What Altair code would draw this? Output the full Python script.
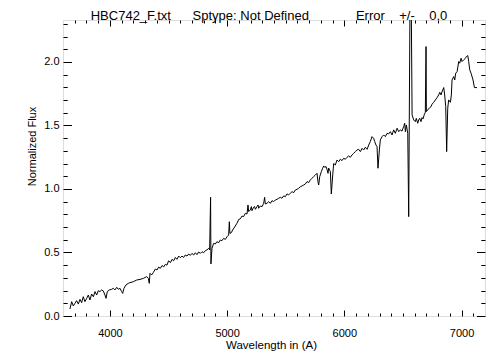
import altair as alt
import pandas as pd

# ---- spectrum ----
wavelength = [
    3659, 3674, 3688, 3702, 3716, 3731, 3745, 3759, 3773, 3787, 3802, 3816, 3830, 3844, 3859,
    3873, 3887, 3901, 3915, 3930, 3944, 3958, 3967, 3978, 3995, 4015, 4029, 4043, 4058, 4072,
    4086, 4100, 4109, 4120, 4137, 4157, 4171, 4200, 4228, 4257, 4285, 4314, 4328, 4336, 4342,
    4356, 4370, 4388, 4402, 4416, 4430, 4445, 4459, 4473, 4487, 4501, 4516, 4530, 4544, 4558,
    4572, 4587, 4601, 4615, 4629, 4643, 4658, 4672, 4686, 4700, 4715, 4729, 4743, 4757, 4772,
    4786, 4800, 4814, 4828, 4843, 4851, 4859, 4862, 4871, 4885, 4899, 4913, 4928, 4942, 4956,
    4970, 4985, 4999, 5013, 5019, 5024, 5036, 5047, 5064, 5084, 5099, 5113, 5127, 5141, 5155,
    5170, 5178, 5184, 5198, 5207, 5212, 5226, 5235, 5241, 5255, 5264, 5269, 5283, 5298, 5312,
    5320, 5326, 5340, 5355, 5369, 5383, 5397, 5411, 5426, 5440, 5454, 5468, 5483, 5497, 5511,
    5525, 5539, 5554, 5568, 5582, 5596, 5610, 5625, 5639, 5653, 5667, 5682, 5696, 5710, 5724,
    5738, 5753, 5767, 5775, 5781, 5790, 5804, 5815, 5824, 5832, 5844, 5852, 5861, 5866, 5881,
    5889, 5901, 5909, 5923, 5938, 5952, 5966, 5980, 5994, 6009, 6023, 6037, 6051, 6066, 6080,
    6094, 6108, 6122, 6137, 6151, 6165, 6179, 6194, 6208, 6222, 6236, 6250, 6259, 6270, 6279,
    6287, 6299, 6307, 6322, 6336, 6350, 6364, 6378, 6393, 6407, 6421, 6435, 6450, 6464, 6478,
    6492, 6506, 6515, 6521, 6529, 6541, 6549, 6565, 6578, 6592, 6606, 6614, 6626, 6634, 6643,
    6654, 6663, 6671, 6683, 6691, 6697, 6700, 6711, 6728, 6740, 6748, 6762, 6777, 6791, 6805,
    6814, 6825, 6836, 6848, 6856, 6865, 6873, 6882, 6890, 6905, 6913, 6919, 6933, 6942, 6950,
    6962, 6976, 6984, 6996, 7004, 7018, 7033, 7041, 7053, 7061, 7070, 7081, 7098, 7110, 7132,
]
flux = [
    0.055, 0.113, 0.079, 0.100, 0.121, 0.094, 0.131, 0.105, 0.152, 0.113, 0.139, 0.165, 0.126, 0.173, 0.152,
    0.192, 0.165, 0.199, 0.192, 0.205, 0.197, 0.165, 0.139, 0.192, 0.205, 0.210, 0.218, 0.205, 0.226, 0.210,
    0.218, 0.192, 0.178, 0.218, 0.244, 0.257, 0.262, 0.270, 0.283, 0.288, 0.296, 0.310, 0.296, 0.257, 0.336,
    0.323, 0.341, 0.370, 0.362, 0.385, 0.375, 0.398, 0.386, 0.407, 0.400, 0.435, 0.420, 0.446, 0.435, 0.461,
    0.446, 0.472, 0.459, 0.472, 0.461, 0.480, 0.472, 0.488, 0.477, 0.493, 0.480, 0.498, 0.483, 0.504, 0.493,
    0.506, 0.498, 0.514, 0.520, 0.533, 0.520, 0.935, 0.410, 0.533, 0.572, 0.567, 0.585, 0.577, 0.598, 0.593,
    0.611, 0.603, 0.624, 0.637, 0.742, 0.650, 0.656, 0.677, 0.700, 0.730, 0.760, 0.765, 0.787, 0.782, 0.808,
    0.803, 0.874, 0.822, 0.835, 0.861, 0.829, 0.856, 0.861, 0.840, 0.861, 0.874, 0.848, 0.866, 0.861, 0.887,
    0.934, 0.882, 0.887, 0.900, 0.887, 0.908, 0.900, 0.913, 0.919, 0.927, 0.934, 0.927, 0.945, 0.940, 0.961,
    0.953, 0.966, 0.979, 0.971, 0.992, 0.997, 1.005, 1.018, 1.024, 1.031, 1.039, 1.058, 1.050, 1.071, 1.084,
    1.097, 1.110, 1.123, 1.058, 1.031, 1.097, 1.136, 1.163, 1.181, 1.171, 1.176, 1.155, 1.123, 1.165, 1.136,
    0.960, 1.110, 1.200, 1.189, 1.228, 1.215, 1.234, 1.223, 1.241, 1.234, 1.249, 1.260, 1.249, 1.268, 1.281,
    1.294, 1.307, 1.312, 1.294, 1.320, 1.307, 1.328, 1.312, 1.346, 1.373, 1.412, 1.399, 1.373, 1.346, 1.333,
    1.163, 1.307, 1.386, 1.412, 1.425, 1.412, 1.438, 1.433, 1.451, 1.425, 1.465, 1.438, 1.478, 1.451, 1.465,
    1.455, 1.491, 1.517, 1.451, 1.504, 1.438, 0.782, 3.200, 1.583, 1.543, 1.530, 1.556, 1.517, 1.543, 1.556,
    1.530, 1.562, 1.551, 1.588, 1.604, 2.121, 1.609, 1.622, 1.640, 1.648, 1.667, 1.682, 1.701, 1.719, 1.740,
    1.761, 1.740, 1.772, 1.798, 1.740, 1.648, 1.294, 1.635, 1.701, 1.682, 1.740, 1.858, 1.885, 1.858, 1.911,
    1.924, 2.003, 1.990, 2.029, 2.003, 2.016, 2.029, 2.042, 2.050, 2.003, 1.937, 1.911, 1.858, 1.798, 1.798,
]

# ---- axes / text ----
x_domain = [3600, 7200]
y_domain = [0.0, 2.33]
x_major = [4000, 5000, 6000, 7000]
x_minor = [v for v in range(3700, 7200, 100) if v % 1000 != 0]
y_major = [0.0, 0.5, 1.0, 1.5, 2.0]
y_minor = [round(v * 0.1, 1) for v in range(1, 24) if v % 5 != 0]
x_title = "Wavelength in (A)"
y_title = "Normalized Flux"
NB = "\u00a0"
title_text = ("HBC742_F.txt" + NB * 6 + "Sptype: Not Defined" + NB * 13 + "Error"
              + NB * 4 + "+/-" + NB * 4 + "0.0")

W, H = 422, 296
FONT = "Liberation Sans"

df = pd.DataFrame({"wl": wavelength, "flux": flux})
xs = alt.Scale(domain=x_domain, nice=False, zero=False)
ys = alt.Scale(domain=y_domain, nice=False, zero=False)
base = alt.Chart(df)

spectrum = base.mark_line(color="black", strokeWidth=1, clip=True).encode(
    x=alt.X("wl:Q", scale=xs, axis=alt.Axis(
        orient="bottom", values=x_major, format="d", ticks=False, tickSize=0, domain=False,
        grid=False, labelPadding=11, labelFontSize=11, labelFont=FONT, labelColor="black",
        title=x_title, titleFont=FONT, titleFontSize=11.5, titleFontWeight="normal",
        titleColor="black", titleX=208, titleY=32, titleBaseline="alphabetic", titleAlign="center")),
    y=alt.Y("flux:Q", scale=ys, axis=alt.Axis(
        orient="left", values=y_major, format=".1f", ticks=False, tickSize=0, domain=False,
        grid=False, labelPadding=4, labelFontSize=11, labelFont=FONT, labelColor="black",
        title=y_title, titleFont=FONT, titleFontSize=11, titleFontWeight="normal",
        titleColor="black", titleAngle=270, titleX=-31, titleY=126,
        titleBaseline="middle", titleAlign="center")),
)


def tick_layer(x_orient, y_orient, x_vals, y_vals, x_len, y_len):
    return base.mark_line(opacity=0, clip=True).encode(
        x=alt.X("wl:Q", scale=xs, axis=alt.Axis(
            orient=x_orient, offset=-H, values=x_vals, labels=False, domain=False, grid=False,
            ticks=True, tickSize=x_len, tickColor="black", tickWidth=1, title="")),
        y=alt.Y("flux:Q", scale=ys, axis=alt.Axis(
            orient=y_orient, offset=-W, values=y_vals, labels=False, domain=False, grid=False,
            ticks=True, tickSize=y_len, tickColor="black", tickWidth=1, title="")),
    )


# inward ticks: bottom/left edges ("top"/"right" axes pulled across), top/right edges
in_low_major = tick_layer("top", "right", x_major, y_major, 6, 8.5)
in_low_minor = tick_layer("top", "right", x_minor, y_minor, 3, 4.2)
in_high_major = tick_layer("bottom", "left", x_major, y_major, 6, 8.5)
in_high_minor = tick_layer("bottom", "left", x_minor, y_minor, 3, 4.2)

chart = alt.layer(
    spectrum, in_low_major, in_low_minor, in_high_major, in_high_minor
).resolve_axis(x="independent", y="independent").properties(
    width=W, height=H,
    autosize=alt.AutoSizeParams(type="none"),
    padding={"left": 55, "top": 12, "right": 11, "bottom": 36},
    title=alt.TitleParams(text=title_text, font=FONT, fontSize=13, fontWeight="normal",
                          color="black", anchor="middle", baseline="alphabetic",
                          offset=5, dx=-5, dy=18),
).configure_view(stroke="black", strokeWidth=1).configure(background="white")

chart.save("out.html", embed_options={"renderer": "svg", "actions": False})
